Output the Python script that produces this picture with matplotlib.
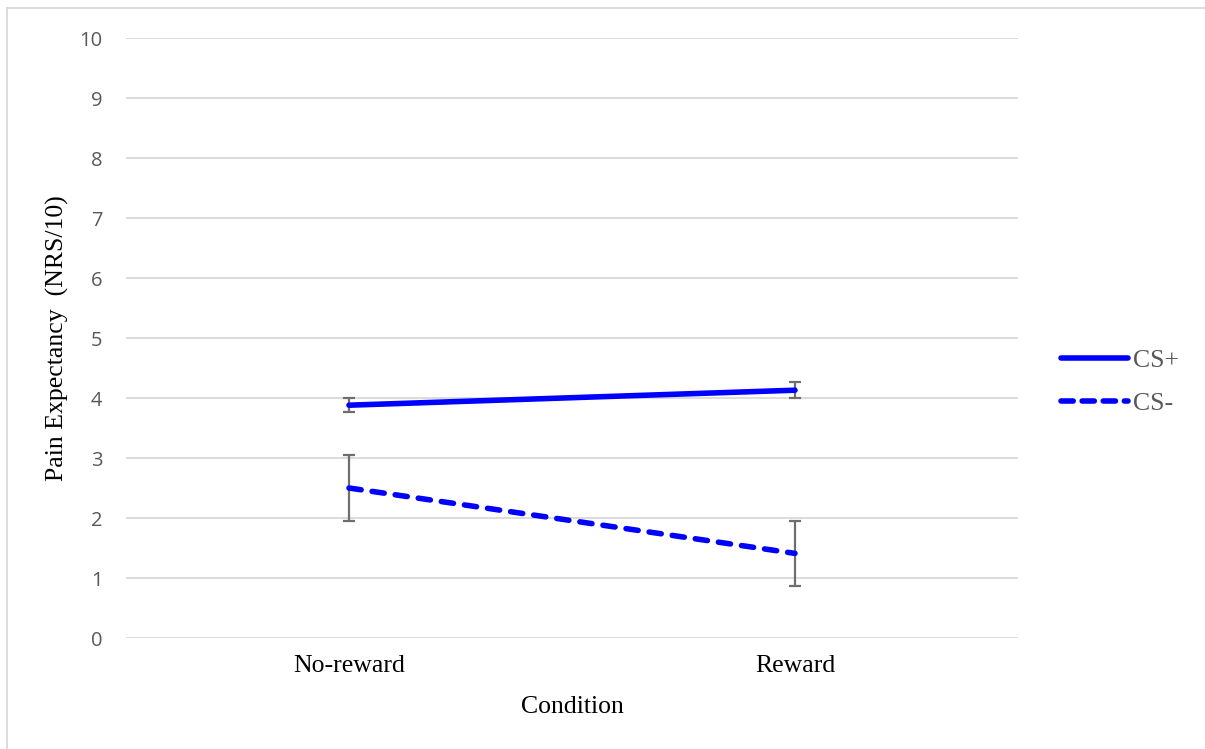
import matplotlib.pyplot as plt
from matplotlib.lines import Line2D

# data
conditions = ["No-reward", "Reward"]
cs_plus = [3.88, 4.13]
cs_plus_err = [0.12, 0.13]
cs_minus = [2.50, 1.41]
cs_minus_err = [0.55, 0.54]
y_ticks = list(range(0, 11))

blue = "#0000ff"
serif = "Liberation Serif"

fig = plt.figure(figsize=(12.05, 7.49), dpi=100)
ax = fig.add_axes([126 / 1205, 1 - 638 / 749, 892 / 1205, 600 / 749])

xs = list(range(len(conditions)))
ax.errorbar(xs, cs_plus, yerr=cs_plus_err, color=blue, lw=4, solid_capstyle="round",
            ecolor="#6e6e6e", elinewidth=1.6, capsize=4.5, capthick=1.6, zorder=3)
ax.errorbar(xs, cs_minus, yerr=cs_minus_err, color=blue, lw=4, ls=(0, (2.2, 2.0)),
            dash_capstyle="round", ecolor="#6e6e6e", elinewidth=1.6, capsize=4.5,
            capthick=1.6, zorder=3)

ax.set_xlim(-0.5, 1.5)
ax.set_ylim(0, 10)
ax.set_yticks(y_ticks)
ax.set_yticklabels([str(t) for t in y_ticks], family="Open Sans", fontsize=14.5, color="#595959")
ax.set_xticks(xs)
ax.set_xticklabels(conditions, family=serif, fontsize=18.5, color="black")
ax.tick_params(length=0, axis="both")
ax.tick_params(axis="y", pad=17)
ax.tick_params(axis="x", pad=12)
ax.grid(axis="y", color="#d9d9d9", lw=1.3)
ax.set_axisbelow(True)
for s in ax.spines.values():
    s.set_visible(False)

ax.set_xlabel("Condition", family=serif, fontsize=18.5, labelpad=14)
ax.set_ylabel("Pain Expectancy  (NRS/10)", family=serif, fontsize=18.5)
ax.yaxis.set_label_coords(-0.064, 0.5)

handles = [Line2D([], [], color=blue, lw=4, solid_capstyle="round"),
           Line2D([], [], color=blue, lw=4, ls=(0, (2.2, 1.6)), dash_capstyle="round")]
leg = fig.legend(handles, ["CS+", "CS-"], loc="center left",
                 bbox_to_anchor=(1038 / 1205, 1 - 382 / 749), frameon=False,
                 handlelength=2.6, handletextpad=0.2, labelspacing=0.8,
                 prop={"family": serif, "size": 18.5})
for t in leg.get_texts():
    t.set_color("#595959")

# outer chart frame (left and top edges visible)
fig.add_artist(Line2D([7 / 1205, 7 / 1205], [0, 1 - 8 / 749], color="#d9d9d9", lw=1.3))
fig.add_artist(Line2D([7 / 1205, 1], [1 - 8 / 749, 1 - 8 / 749], color="#d9d9d9", lw=1.3))

plt.savefig("out.png", dpi=100)
